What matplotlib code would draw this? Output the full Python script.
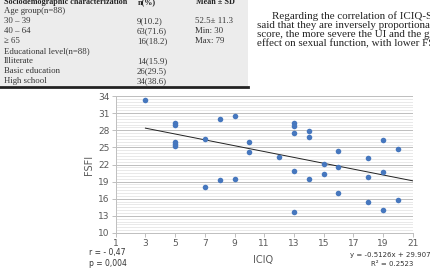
import numpy as np
import matplotlib
matplotlib.use("Agg")
import matplotlib.pyplot as plt
from matplotlib.patches import Rectangle
from matplotlib.ticker import MultipleLocator

# scatter data: ICIQ score vs FSFI score
iciq = [3, 5, 5, 5, 5, 5, 7, 7, 8, 8, 9, 9, 10, 10, 12,
        13, 13, 13, 13, 13, 14, 14, 14, 15, 15, 16, 16, 16,
        18, 18, 18, 19, 19, 19, 20, 20]
fsfi = [33.3, 29.2, 28.9, 26.0, 25.6, 25.2, 26.4, 18.1, 30.0, 19.2, 30.5, 19.4,
        26.0, 24.2, 23.4, 29.2, 28.7, 27.5, 20.9, 13.6, 27.9, 26.9, 19.4,
        22.1, 20.3, 24.4, 21.5, 17.0, 23.2, 19.8, 15.5, 26.3, 20.7, 14.1,
        24.8, 15.7]
slope, intercept = -0.5126, 29.907
x_ticks = list(range(1, 22, 2))
y_ticks = list(range(10, 35, 3))

# table rows above the chart
table_header = ["Sociodemographic characterization", "n(%)", "Mean ± SD"]
table_rows = ["Age group(n=88)", "30 – 39", "40 – 64", "≥ 65",
              "Educational level(n=88)", "Illiterate", "Basic education", "High school"]
table_n = ["", "9(10.2)", "63(71.6)", "16(18.2)", "", "14(15.9)", "26(29.5)", "34(38.6)"]
table_mean = ["", "52.5± 11.3", "Min: 30", "Max: 79", "", "", "", ""]
para_lines = ["Regarding the correlation of ICIQ-SF and FSFI, it can be",
              "said that they are inversely proportional. The higher the ICIQ",
              "score, the more severe the UI and the greater the negative",
              "effect on sexual function, with lower FSFI scores."]

W, H = 430, 276
fig = plt.figure(figsize=(W / 100, H / 100), dpi=100)


def fx(px):
    return px / W


def fy(py):
    return 1 - py / H


serif = ["Liberation Serif", "DejaVu Serif"]

# table block
fig.patches.append(Rectangle((0, fy(86)), fx(248), 1 - fy(86), transform=fig.transFigure,
                             facecolor="#ececec", edgecolor="none", zorder=0))
fig.add_artist(plt.Line2D([0, fx(248)], [fy(86.5), fy(86.5)], transform=fig.transFigure,
                          color="#222222", lw=2))
for txt, x in zip(table_header, [4, 138, 196]):
    fig.text(fx(x), fy(2), txt, family=serif, fontsize=5.9, weight="bold",
             va="center", ha="left", color="#222222")
for i, (a, b, c) in enumerate(zip(table_rows, table_n, table_mean)):
    y = fy(11 + i * 10)
    fig.text(fx(4), y, a, family=serif, fontsize=6.3, va="center", color="#333333")
    fig.text(fx(137), y, b, family=serif, fontsize=6.3, va="center", color="#333333")
    fig.text(fx(195), y, c, family=serif, fontsize=6.3, va="center", color="#333333")

# paragraph on the right (cut by the page edge)
for i, line in enumerate(para_lines):
    x0 = 272 if i == 0 else 257
    fig.text(fx(x0), fy(16 + i * 9.3), line, family=serif, fontsize=7.9,
             va="center", color="#222222")

# chart
ax = fig.add_axes([fx(115.7), fy(233), fx(412.7) - fx(115.7), fy(96) - fy(233)])
ax.set_xlim(1, 21)
ax.set_ylim(10, 34)
ax.set_xticks(x_ticks)
ax.set_yticks(y_ticks)
ax.yaxis.set_minor_locator(MultipleLocator(0.5))
ax.grid(True, which="major", axis="y", color="#bdbdbd", lw=0.7)
ax.grid(True, which="minor", axis="y", color="#e0e0e0", lw=0.5)
ax.set_axisbelow(True)
for s in ["top", "right"]:
    ax.spines[s].set_visible(False)
for s in ["left", "bottom"]:
    ax.spines[s].set_color("#bfbfbf")
    ax.spines[s].set_linewidth(0.7)
ax.tick_params(which="both", colors="#bfbfbf", labelcolor="#595959", labelsize=6.5,
               length=3, width=0.7, pad=1.5)
ax.tick_params(which="minor", length=0)

ax.scatter(iciq, fsfi, s=16, color="#4677be", zorder=3, linewidths=0)
xl = np.array([min(iciq), 21])
ax.plot(xl, slope * xl + intercept, color="#222222", lw=0.7, zorder=2)

ax.set_ylabel("FSFI", fontsize=7, color="#595959", labelpad=3)
fig.text(fx(263), fy(260), "ICIQ", fontsize=7, color="#595959", ha="center", va="center")
fig.text(fx(89), fy(252), "r = - 0,47", fontsize=5.5, color="#333333", va="center")
fig.text(fx(89), fy(263), "p = 0,004", fontsize=5.5, color="#333333", va="center")
fig.text(fx(390), fy(255.5), "y = -0.5126x + 29.907", fontsize=5.0, color="#333333",
         ha="center", va="center")
fig.text(fx(392), fy(263.5), "R² = 0.2523", fontsize=5.0, color="#333333",
         ha="center", va="center")

fig.savefig("out.png", dpi=100)
